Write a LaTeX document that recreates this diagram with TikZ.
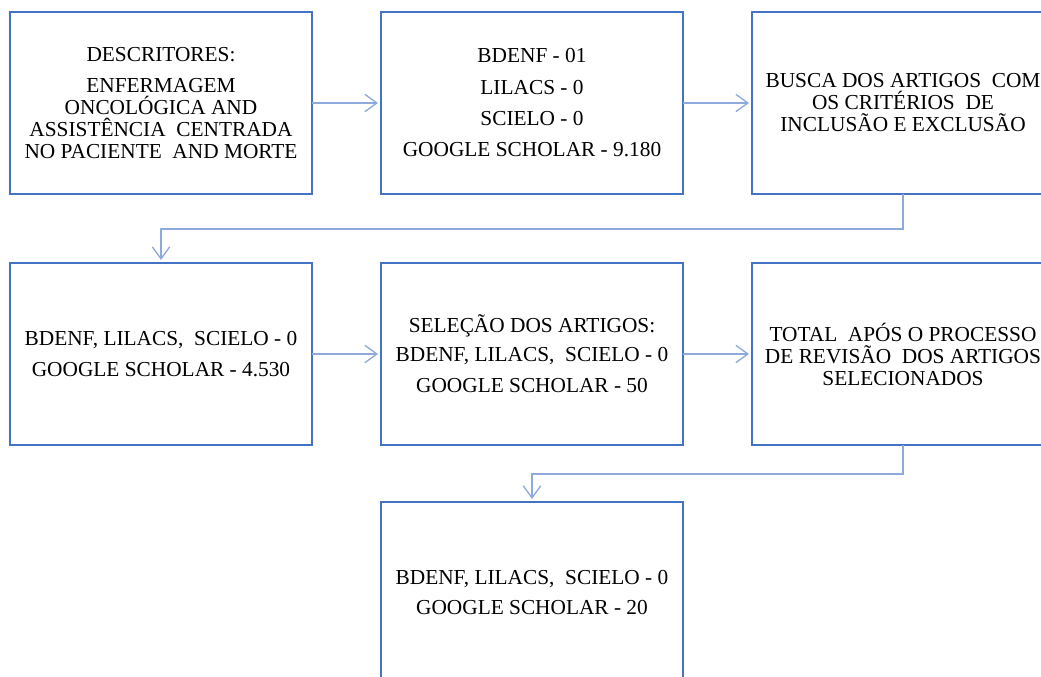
\documentclass[tikz,border=0pt]{standalone}
\usepackage{fontspec}
\setmainfont{Liberation Serif}
\usetikzlibrary{positioning}
\usetikzlibrary{arrows.meta}
\definecolor{boxblue}{HTML}{4472C4}
\definecolor{linkblue}{HTML}{8EA9DB}

\begin{document}
\begin{tikzpicture}[x=0.75pt, y=0.75pt,
        etapa/.style={draw=boxblue, line width=1.6pt, minimum width=226.5pt, minimum height=136.5pt,
            align=center, inner sep=0pt, outer sep=0pt, font=\fontsize{16}{16.5}\selectfont},
        liga/.style={draw=linkblue, line width=1pt, -{Straight Barb[length=9pt,width=13pt]}, shorten >=2.25pt}]
        \useasboundingbox (0,0) rectangle (1041,-677);
        \clip (0,0) rectangle (1041,-677);
        % first row
        \node [etapa] (descritores) at (161,-103) {DESCRITORES:\\[7pt] ENFERMAGEM\\ ONCOLÓGICA AND\\ ASSISTÊNCIA~ CENTRADA\\ NO PACIENTE~ AND MORTE};
        \node [etapa, right=51.75pt of descritores] (bases) {BDENF - 01\\[7pt] LILACS - 0\\[7pt] SCIELO - 0\\[7pt] GOOGLE SCHOLAR - 9.180};
        \node [etapa, right=51.75pt of bases] (busca) {BUSCA DOS ARTIGOS~ COM\\ OS CRITÉRIOS~ DE\\ INCLUSÃO E EXCLUSÃO};
        % second row
        \node [etapa, below=51.75pt of descritores] (filtro) {BDENF, LILACS,~ SCIELO - 0\\[7pt] GOOGLE SCHOLAR - 4.530};
        \node [etapa, right=51.75pt of filtro] (selecao) {SELEÇÃO DOS ARTIGOS:\\[5pt] BDENF, LILACS,~ SCIELO - 0\\[7pt] GOOGLE SCHOLAR - 50};
        \node [etapa, right=51.75pt of selecao] (revisao) {TOTAL~ APÓS O PROCESSO\\ DE REVISÃO~ DOS ARTIGOS\\ SELECIONADOS};
        % third row
        \node [etapa, below=42.75pt of selecao] (final) {BDENF, LILACS,~ SCIELO - 0\\[6pt] GOOGLE SCHOLAR - 20};
        % connectors
        \draw [liga] (descritores) -- (bases);
        \draw [liga] (bases) -- (busca);
        \draw [liga] (busca.south) -- ++(0,-35) -| (filtro.north);
        \draw [liga] (filtro) -- (selecao);
        \draw [liga] (selecao) -- (revisao);
        \draw [liga] (revisao.south) -- ++(0,-29) -| (final.north);
    \end{tikzpicture}
\end{document}
